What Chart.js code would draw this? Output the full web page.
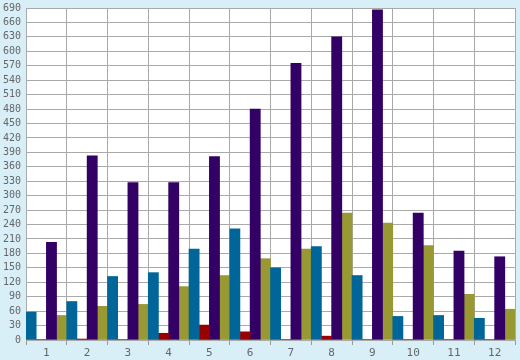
<!DOCTYPE html>
<html>
<head>
<meta charset="utf-8">
<script src="https://cdn.jsdelivr.net/npm/chart.js@4/dist/chart.umd.min.js"></script>
<style>
html,body{margin:0;padding:0;background:#d9eff7;}
#wrap{width:520px;height:360px;position:relative;}
</style>
</head>
<body>
<div id="wrap"><canvas id="c" width="520" height="360"></canvas></div>
<script>
const categories = ['1','2','3','4','5','6','7','8','9','10','11','12'];
const seriesBlue   = [58, 80, 132, 140, 189, 231, 150, 194, 134, 49, 51, 45];
const seriesRed    = [1, 2, 1, 14, 31, 17, 1, 8, 1, 1, 1, 1];
const seriesPurple = [203, 383, 327, 327, 381, 480, 575, 630, 686, 264, 185, 173];
const seriesOlive  = [51, 70, 74, 111, 134, 169, 189, 264, 243, 196, 95, 64];
const yMax = 690;
const yStep = 30;

const bgPlugin = {
  id: 'bg',
  beforeDraw(chart) {
    const ctx = chart.ctx, a = chart.chartArea;
    ctx.save();
    ctx.fillStyle = '#d9eff7';
    ctx.fillRect(0, 0, chart.width, chart.height);
    ctx.fillStyle = '#ffffff';
    ctx.fillRect(a.left, a.top, a.right - a.left, a.bottom - a.top);
    ctx.restore();
  }
};

new Chart(document.getElementById('c'), {
  type: 'bar',
  data: {
    labels: categories,
    datasets: [
      { data: seriesBlue,   backgroundColor: '#006699' },
      { data: seriesRed,    backgroundColor: '#990000' },
      { data: seriesPurple, backgroundColor: '#330066' },
      { data: seriesOlive,  backgroundColor: '#999933' }
    ]
  },
  options: {
    responsive: false,
    animation: false,
    devicePixelRatio: 1,
    layout: { padding: { top: 0, right: 5, left: 0, bottom: 0 } },
    datasets: { bar: { barPercentage: 1, categoryPercentage: 1, borderWidth: 0 } },
    plugins: { legend: { display: false }, tooltip: { enabled: false } },
    scales: {
      x: {
        grid: { color: '#aaaaaa', lineWidth: 1, offset: true, drawTicks: true, tickLength: 5, tickColor: '#999999' },
        border: { color: '#aaaaaa' },
        ticks: { color: '#666666', font: { family: 'DejaVu Sans Mono', size: 11 }, padding: 2, maxRotation: 0, autoSkip: false },
        afterFit(s) { s.height = 20; }
      },
      y: {
        min: 0, max: yMax,
        grid: { color: '#aaaaaa', lineWidth: 1, drawTicks: false },
        border: { color: '#aaaaaa' },
        ticks: { stepSize: yStep, color: '#666666', font: { family: 'DejaVu Sans Mono', size: 10, lineHeight: 0.6 }, padding: 5, autoSkip: false },
        afterFit(s) { s.width = 26; }
      }
    }
  },
  plugins: [bgPlugin]
});
</script>
</body>
</html>
